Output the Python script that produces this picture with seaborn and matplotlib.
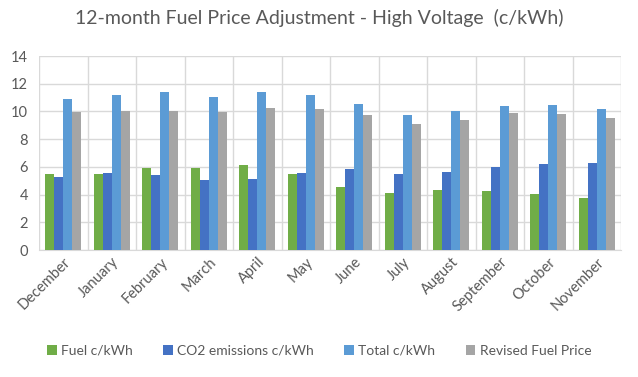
import matplotlib
matplotlib.use("Agg")
import matplotlib.pyplot as plt
import seaborn as sns
import pandas as pd
from matplotlib.ticker import FixedLocator

months = ["December", "January", "February", "March", "April", "May",
          "June", "July", "August", "September", "October", "November"]
fuel = [5.48, 5.48, 5.94, 5.94, 6.13, 5.48, 4.55, 4.11, 4.33, 4.26, 4.04, 3.75]
co2 = [5.27, 5.56, 5.41, 5.05, 5.12, 5.56, 5.85, 5.48, 5.63, 5.99, 6.21, 6.28]
total = [10.90, 11.19, 11.40, 11.04, 11.40, 11.19, 10.54, 9.74, 10.03, 10.39, 10.46, 10.18]
revised = [9.98, 10.03, 10.03, 9.98, 10.25, 10.18, 9.74, 9.09, 9.38, 9.89, 9.81, 9.53]

series = {
    "Fuel c/kWh": fuel,
    "CO2 emissions c/kWh": co2,
    "Total c/kWh": total,
    "Revised Fuel Price": revised,
}
colors = ["#70AD47", "#4472C4", "#5B9BD5", "#A5A5A5"]

df = pd.DataFrame({"month": months, **series}).melt(
    id_vars="month", var_name="series", value_name="value")

sns.set_style("white")
plt.rcParams["font.family"] = ["Lato", "DejaVu Sans"]
text_col = "#595959"

fig = plt.figure(figsize=(6.38, 3.77), dpi=100)
ax = fig.add_axes([39 / 638, 1 - 250 / 377, (621 - 39) / 638, (250 - 56) / 377])

sns.barplot(data=df, x="month", y="value", hue="series", palette=colors,
            saturation=1, width=0.75, gap=0, ax=ax, zorder=3, linewidth=0)

ax.set_ylim(0, 14)
ax.set_xlim(-0.5, len(months) - 0.5)
ax.set_yticks(range(0, 15, 2))
ax.xaxis.set_minor_locator(FixedLocator([i - 0.5 for i in range(len(months) + 1)]))
ax.grid(axis="y", which="major", color="#D9D9D9", linewidth=1, zorder=0)
ax.grid(axis="x", which="minor", color="#D9D9D9", linewidth=1, zorder=0)
ax.grid(axis="x", which="major", visible=False)
for s in ["left", "right", "top"]:
    ax.spines[s].set_visible(False)
ax.spines["bottom"].set_color("#D9D9D9")
ax.tick_params(axis="both", which="both", length=0, colors=text_col, labelsize=10.5)
ax.tick_params(axis="y", pad=8)
ax.set_xticks(range(len(months)))
ax.set_xticklabels(months, rotation=45, ha="right", rotation_mode="anchor")
ax.set_xlabel("")
ax.set_ylabel("")

fig.suptitle("12-month Fuel Price Adjustment - High Voltage  (c/kWh)",
             x=0.5, y=0.975, fontsize=14, color=text_col)

ax.legend(loc="lower center", bbox_to_anchor=(0.5, 0.02), bbox_transform=fig.transFigure,
          ncol=4, frameon=False, fontsize=10, labelcolor=text_col,
          handlelength=0.7, handleheight=0.7, handletextpad=0.3, columnspacing=2.2)

fig.savefig("out.png", dpi=100)
plt.close(fig)
